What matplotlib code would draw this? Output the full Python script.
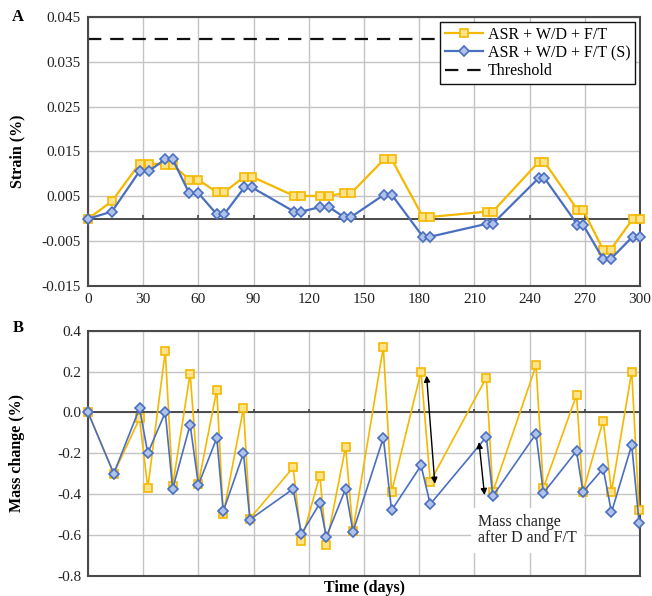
import matplotlib
matplotlib.use("Agg")
import matplotlib.pyplot as plt

plt.rcParams['font.family'] = ['Liberation Serif', 'DejaVu Serif']

# ---- Data: strain (panel A) ----
days_strain = [0, 13, 28, 33, 42, 46, 55, 60, 70, 74, 85, 89, 112, 116, 126, 131,
               139, 143, 161, 165, 182, 186, 217, 220, 245, 248, 266, 269, 280, 284, 296, 300]
strain_asr = [0, 0.0039, 0.0123, 0.0123, 0.0121, 0.0121, 0.0087, 0.0087, 0.0059, 0.0059,
              0.0094, 0.0094, 0.0051, 0.0051, 0.0051, 0.0051, 0.0057, 0.0057, 0.0133, 0.0133,
              0.0004, 0.0004, 0.0016, 0.0016, 0.0127, 0.0127, 0.0020, 0.0020, -0.0069, -0.0069,
              -0.0001, -0.0001]
strain_asr_s = [0, 0.0016, 0.0106, 0.0106, 0.0133, 0.0133, 0.0057, 0.0057, 0.0010, 0.0010,
                0.0070, 0.0070, 0.0016, 0.0016, 0.0026, 0.0026, 0.0004, 0.0004, 0.0054, 0.0054,
                -0.0040, -0.0040, -0.0011, -0.0011, 0.0091, 0.0091, -0.0013, -0.0013, -0.0090, -0.0090,
                -0.0040, -0.0040]
threshold = 0.040

# ---- Data: mass change (panel B) ----
days_mass = [0, 14, 28, 32.5, 42, 46, 55.5, 60, 70, 73.5, 84.5, 88, 111.5, 116, 126, 129.5,
             140, 144, 160.5, 165, 181, 186, 216.5, 220, 243.5, 247.5, 265.5, 269, 280, 284.5, 295.5, 299.5]
mass_asr = [0, -0.30, -0.03, -0.37, 0.30, -0.36, 0.19, -0.35, 0.11, -0.50, 0.02, -0.52,
            -0.27, -0.63, -0.31, -0.65, -0.17, -0.58, 0.32, -0.39, 0.20, -0.34, 0.17, -0.39,
            0.23, -0.37, 0.085, -0.39, -0.04, -0.39, 0.20, -0.48]
mass_asr_s = [0, -0.30, 0.02, -0.20, 0.00, -0.375, -0.06, -0.355, -0.125, -0.485, -0.20, -0.525,
              -0.375, -0.595, -0.445, -0.61, -0.375, -0.585, -0.125, -0.48, -0.26, -0.45, -0.12, -0.41,
              -0.105, -0.395, -0.19, -0.39, -0.275, -0.49, -0.16, -0.54]

x_ticks = [0, 30, 60, 90, 120, 150, 180, 210, 240, 270, 300]
strain_ticks = [-0.015, -0.005, 0.005, 0.015, 0.025, 0.035, 0.045]
mass_ticks = [-0.8, -0.6, -0.4, -0.2, 0.0, 0.2, 0.4]

labels = ['ASR + W/D + F/T', 'ASR + W/D + F/T (S)', 'Threshold']
annot_text = 'Mass change\nafter D and F/T'

YEL = '#F5B800'
YEL_F = '#FFE38A'
BLU = '#4A6FC0'
BLU_F = '#AFC3EA'
GRID = '#c4c4c4'
SPINE = '#4a4a4a'

fig = plt.figure(figsize=(6.52, 5.96), dpi=100)
axA = fig.add_axes([88/652, 1-286/596, 552/652, 269/596])
axB = fig.add_axes([88/652, 1-575.7/596, 552/652, 245/596])

def style(ax):
    for s in ax.spines.values():
        s.set_color(SPINE)
        s.set_linewidth(1.5)
    ax.grid(True, color=GRID, linewidth=1.0)
    ax.set_axisbelow(True)
    ax.tick_params(length=0, labelsize=11, colors='#222222', pad=5)
    ax.set_xlim(0, 300)
    ax.set_xticks(x_ticks)

# ---- Panel A ----
style(axA)
axA.set_ylim(-0.015, 0.045)
axA.set_yticks(strain_ticks)
axA.set_yticklabels([f'{v:.3f}' for v in strain_ticks])
axA.axhline(0, color=SPINE, lw=1.4, zorder=2)
axA.vlines(x_ticks[1:-1], 0, 0.0008, color=SPINE, lw=1.2, zorder=2)
axA.plot(days_strain, strain_asr, color=YEL, lw=1.6, marker='s', ms=5.8,
         mfc=YEL_F, mec=YEL, mew=1.2, label=labels[0], zorder=3, clip_on=False)
axA.plot(days_strain, strain_asr_s, color=BLU, lw=1.6, marker='D', ms=5.0,
         mfc=BLU_F, mec=BLU, mew=1.2, label=labels[1], zorder=4, clip_on=False)
axA.axhline(threshold, color='#111111', lw=1.6, dashes=(6, 4), label=labels[2], zorder=2)
axA.set_ylabel('Strain (%)', fontsize=11.5, fontweight='bold')
axA.yaxis.set_label_coords(-0.114, 0.5)
leg = axA.legend(loc='upper right', fontsize=11.5, frameon=True, fancybox=False,
                 borderaxespad=0.3, handlelength=2.4, labelspacing=0.15,
                 borderpad=0.3, handletextpad=0.3)
leg.get_frame().set_edgecolor('#111111')
leg.get_frame().set_linewidth(1.0)
leg.get_frame().set_alpha(1)
leg.set_zorder(6)

# ---- Panel B ----
style(axB)
axB.set_ylim(-0.8, 0.4)
axB.set_yticks(mass_ticks)
axB.set_yticklabels([f'{v:.1f}' for v in mass_ticks])
axB.set_xticklabels([])
axB.axhline(0, color=SPINE, lw=1.4, zorder=2)
axB.vlines(x_ticks[1:-1], 0, 0.015, color=SPINE, lw=1.2, zorder=2)
axB.plot(days_mass, mass_asr, color=YEL, lw=1.2, marker='s', ms=5.8,
         mfc=YEL_F, mec=YEL, mew=1.2, zorder=3, clip_on=False)
axB.plot(days_mass, mass_asr_s, color=BLU, lw=1.2, marker='D', ms=5.0,
         mfc=BLU_F, mec=BLU, mew=1.2, zorder=4, clip_on=False)
axB.annotate('', xy=(188.5, -0.35), xytext=(184, 0.18),
             arrowprops=dict(arrowstyle='<|-|>', color='black', lw=1.0,
                             mutation_scale=9, shrinkA=0, shrinkB=0), zorder=5)
axB.annotate('', xy=(215.5, -0.405), xytext=(212.5, -0.145),
             arrowprops=dict(arrowstyle='<|-|>', color='black', lw=1.0,
                             mutation_scale=9, shrinkA=0, shrinkB=0), zorder=5)
axB.text(212, -0.50, annot_text, fontsize=11.5, va='top', ha='left', color='#222222',
         linespacing=1.0,
         bbox=dict(facecolor='white', edgecolor='none', pad=5), zorder=5)
axB.set_ylabel('Mass change (%)', fontsize=11.5, fontweight='bold')
axB.yaxis.set_label_coords(-0.114, 0.5)
axB.set_xlabel('Time (days)', fontsize=11.5, fontweight='bold')
axB.xaxis.set_label_coords(0.5, -0.018)

fig.text(18/652, 1-17/596, 'A', fontsize=12, fontweight='bold', ha='center', va='center')
fig.text(18/652, 1-328/596, 'B', fontsize=12, fontweight='bold', ha='center', va='center')

fig.savefig('out.png', dpi=100)
